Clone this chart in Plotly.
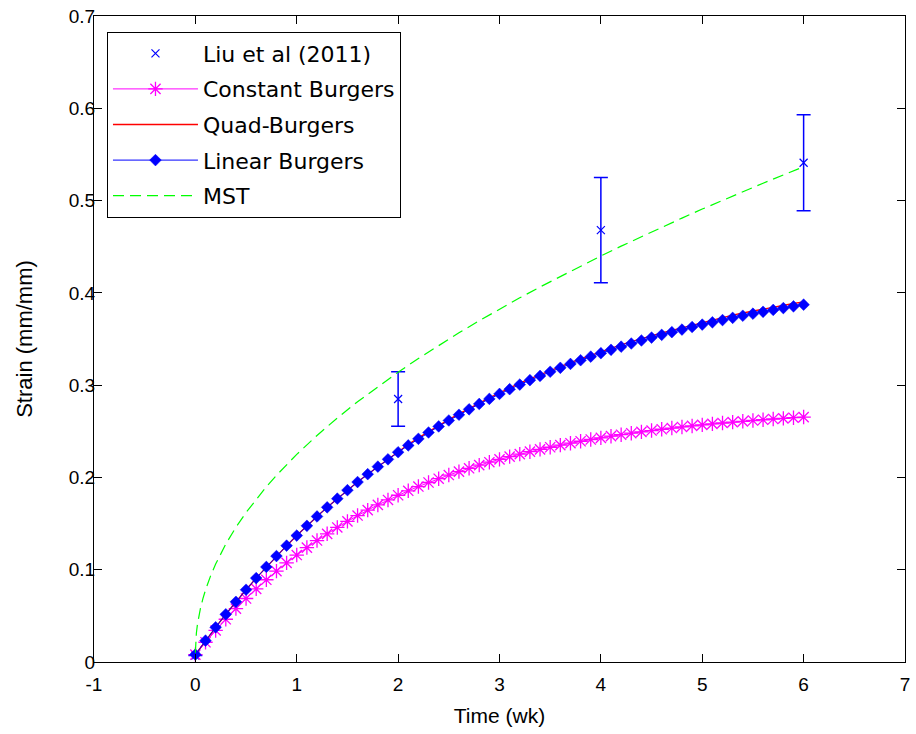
import plotly.graph_objects as go

# ---------------- data ----------------
t_model = [round(0.1 * i, 1) for i in range(61)]

constant_burgers = [
    0.0080, 0.0214, 0.0342, 0.0463, 0.0578, 0.0688, 0.0792, 0.0891, 0.0985, 0.1074,
    0.1159, 0.1240, 0.1316, 0.1389, 0.1458, 0.1524, 0.1587, 0.1646, 0.1702, 0.1756,
    0.1807, 0.1855, 0.1901, 0.1945, 0.1986, 0.2026, 0.2063, 0.2099, 0.2133, 0.2165,
    0.2196, 0.2225, 0.2252, 0.2279, 0.2304, 0.2327, 0.2350, 0.2371, 0.2392, 0.2411,
    0.2429, 0.2447, 0.2463, 0.2479, 0.2494, 0.2508, 0.2522, 0.2535, 0.2547, 0.2558,
    0.2569, 0.2580, 0.2590, 0.2599, 0.2608, 0.2617, 0.2625, 0.2633, 0.2640, 0.2647,
    0.2654,
]

linear_burgers = [
    0.0080, 0.0231, 0.0376, 0.0517, 0.0652, 0.0783, 0.0909, 0.1030, 0.1148, 0.1261,
    0.1370, 0.1476, 0.1577, 0.1676, 0.1770, 0.1862, 0.1950, 0.2035, 0.2117, 0.2196,
    0.2273, 0.2347, 0.2418, 0.2487, 0.2553, 0.2617, 0.2679, 0.2738, 0.2796, 0.2851,
    0.2905, 0.2956, 0.3006, 0.3054, 0.3100, 0.3145, 0.3188, 0.3230, 0.3270, 0.3309,
    0.3346, 0.3383, 0.3417, 0.3451, 0.3484, 0.3515, 0.3545, 0.3574, 0.3602, 0.3630,
    0.3656, 0.3681, 0.3705, 0.3729, 0.3752, 0.3774, 0.3795, 0.3815, 0.3835, 0.3854,
    0.3872,
]

quad_burgers = [
    0.0080, 0.0231, 0.0376, 0.0517, 0.0652, 0.0783, 0.0909, 0.1030, 0.1148, 0.1261,
    0.1370, 0.1476, 0.1577, 0.1676, 0.1770, 0.1862, 0.1950, 0.2035, 0.2117, 0.2196,
    0.2273, 0.2357, 0.2428, 0.2497, 0.2563, 0.2627, 0.2689, 0.2748, 0.2806, 0.2861,
    0.2915, 0.2971, 0.3021, 0.3069, 0.3115, 0.3160, 0.3203, 0.3245, 0.3285, 0.3324,
    0.3361, 0.3403, 0.3437, 0.3471, 0.3504, 0.3535, 0.3565, 0.3594, 0.3622, 0.3650,
    0.3676, 0.3711, 0.3735, 0.3759, 0.3782, 0.3804, 0.3825, 0.3845, 0.3865, 0.3884,
    0.3902,
]

t_mst = [0, 0.005, 0.01, 0.02, 0.03, 0.05, 0.075, 0.1, 0.15, 0.2, 0.3, 0.4, 0.5,
         0.6, 0.7, 0.8, 0.9, 1.0, 1.2, 1.4, 1.6, 1.8, 2.0, 2.2, 2.4, 2.6, 2.8, 3.0,
         3.2, 3.4, 3.6, 3.8, 4.0, 4.2, 4.4, 4.6, 4.8, 5.0, 5.2, 5.4, 5.6, 5.8, 6.0]
mst = [0.0100, 0.0252, 0.0315, 0.0404, 0.0472, 0.0581, 0.0689, 0.0780, 0.0933,
       0.1061, 0.1278, 0.1460, 0.1620, 0.1765, 0.1899, 0.2023, 0.2140, 0.2250,
       0.2455, 0.2644, 0.2820, 0.2984, 0.3141, 0.3289, 0.3431, 0.3567, 0.3698,
       0.3824, 0.3946, 0.4064, 0.4179, 0.4291, 0.4400, 0.4506, 0.4610, 0.4711,
       0.4810, 0.4908, 0.5003, 0.5096, 0.5188, 0.5278, 0.5366]

t_liu = [0, 2, 4, 6]
liu = [0.007, 0.285, 0.468, 0.541]
liu_err = [0.0, 0.0295, 0.057, 0.052]

x_ticks = [-1, 0, 1, 2, 3, 4, 5, 6, 7]
y_ticks = [0, 0.1, 0.2, 0.3, 0.4, 0.5, 0.6, 0.7]

# ---------------- figure ----------------
FONT = "Liberation Sans, Arial, Helvetica, sans-serif"
LEG_FONT = "DejaVu Sans, Verdana, sans-serif"
BLUE = "#0000ff"
MAGENTA = "#ff00ff"
RED = "#ff0000"
GREEN = "#00ff00"

fig = go.Figure()

fig.add_trace(go.Scatter(
    x=t_liu, y=liu, mode="markers", name="Liu et al (2011)",
    legendgroup="a",
    marker=dict(symbol="x-thin-open", size=8, color=BLUE,
                line=dict(color=BLUE, width=1.2)),
    error_y=dict(type="data", array=liu_err, visible=True,
                 color=BLUE, thickness=1.5, width=7),
))

fig.add_trace(go.Scatter(
    x=t_model, y=constant_burgers, mode="lines+markers", name="Constant Burgers",
    legendgroup="b",
    line=dict(color=MAGENTA, width=1),
    marker=dict(symbol="asterisk-open", size=12, color=MAGENTA,
                line=dict(color=MAGENTA, width=1.3)),
))

fig.add_trace(go.Scatter(
    x=t_model, y=quad_burgers, mode="lines", name="Quad-Burgers",
    legendgroup="c",
    line=dict(color=RED, width=1.4),
))

fig.add_trace(go.Scatter(
    x=t_model, y=linear_burgers, mode="lines+markers", name="Linear Burgers",
    legendgroup="d",
    line=dict(color=BLUE, width=1),
    marker=dict(symbol="diamond", size=9, color=BLUE,
                line=dict(color=BLUE, width=0.5)),
))

fig.add_trace(go.Scatter(
    x=t_mst, y=mst, mode="lines", name="MST",
    legendgroup="e",
    line=dict(color=GREEN, width=1.2, dash="11px,6px"),
))

axis_common = dict(
    showgrid=False, zeroline=False, showline=True, linecolor="black",
    linewidth=1, mirror="ticks", ticks="inside", ticklen=8, tickwidth=1,
    tickcolor="black", tickfont=dict(family=FONT, size=19, color="black"),
    ticklabeloverflow="allow",
)

fig.update_layout(
    width=916, height=734,
    margin=dict(l=94, r=6, t=8, b=72),
    paper_bgcolor="white", plot_bgcolor="white",
    font=dict(family=FONT, color="black"),
    xaxis=dict(range=[-1, 7.0000001], tickvals=x_ticks,
               ticktext=[str(v) for v in x_ticks],
               ticklabelstandoff=5,
               title=dict(text="Time (wk)", font=dict(family=FONT, size=21),
                          standoff=14),
               **axis_common),
    yaxis=dict(range=[0, 0.7000001], tickvals=y_ticks,
               ticktext=["0" if v == 0 else f"{v:.1f}" for v in y_ticks],
               ticklabelstandoff=-6,
               title=dict(text="Strain (mm/mm)", font=dict(family=FONT, size=22),
                          standoff=30),
               **axis_common),
    legend=dict(x=0.016, y=0.976, xanchor="left", yanchor="top",
                bgcolor="white", bordercolor="black", borderwidth=1,
                font=dict(family=LEG_FONT, size=22, color="black"),
                tracegroupgap=4, itemwidth=85),
    showlegend=True,
)

fig.write_html("out.html")
